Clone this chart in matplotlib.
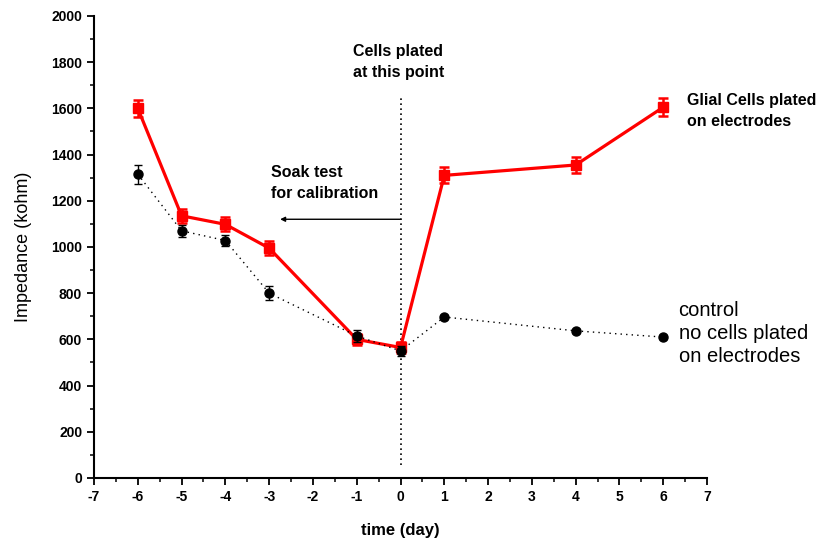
import matplotlib
matplotlib.use("Agg")
import matplotlib.pyplot as plt
from matplotlib.ticker import MultipleLocator

# Impedance measurements over time (days relative to plating)
days = [-6, -5, -4, -3, -1, 0, 1, 4, 6]
glial = [1600, 1135, 1098, 995, 600, 565, 1310, 1355, 1605]
glial_err = [38, 30, 30, 30, 25, 25, 35, 35, 38]
control = [1315, 1070, 1028, 800, 615, 550, 697, 637, 610]
control_err = [42, 25, 25, 30, 25, 20, 10, 10, 10]

plt.rcParams['font.family'] = ['Liberation Sans', 'DejaVu Sans']
plt.rcParams['axes.unicode_minus'] = False

fig = plt.figure(figsize=(8.38, 5.42), dpi=100)
ax = fig.add_axes([0.1122, 0.1181, 0.7315, 0.8524])

ax.errorbar(days, glial, yerr=glial_err, color='#ff0000', linestyle='-',
            linewidth=2.3, marker='s', markersize=7.5, capsize=3.5, elinewidth=1.8,
            capthick=1.8, zorder=2)
ax.errorbar(days, control, yerr=control_err, color='black', linestyle=(0, (1, 3)),
            linewidth=1, marker='o', markersize=6.5, capsize=3, elinewidth=1,
            capthick=1, zorder=3)

# Plating marker line and calibration arrow
ax.plot([0, 0], [56, 1645], color='black', linestyle=(0, (1, 2)), linewidth=1.2, zorder=1)
ax.annotate('', xy=(-2.75, 1120), xytext=(0, 1120),
            arrowprops=dict(arrowstyle='-|>', color='black', lw=1,
                            mutation_scale=7, shrinkA=0, shrinkB=0))

ax.set_xlim(-7, 7)
ax.set_ylim(0, 2000)
ax.xaxis.set_major_locator(MultipleLocator(1))
ax.xaxis.set_minor_locator(MultipleLocator(0.5))
ax.yaxis.set_major_locator(MultipleLocator(200))
ax.yaxis.set_minor_locator(MultipleLocator(100))
for side in ('top', 'right'):
    ax.spines[side].set_visible(False)
for side in ('left', 'bottom'):
    ax.spines[side].set_linewidth(1.5)
ax.tick_params(which='major', direction='out', length=5, width=1.3,
               labelsize=10)
ax.tick_params(which='minor', direction='out', length=3, width=1.1)
for lbl in ax.get_xticklabels() + ax.get_yticklabels():
    lbl.set_fontweight('bold')

ax.set_xlabel('time (day)', fontsize=12, fontweight='bold', labelpad=14)
ax.set_ylabel('Impedance (kohm)', fontsize=13, labelpad=14)

ax.text(-0.05, 1800, 'Cells plated\nat this point', fontsize=11.5, fontweight='bold',
        ha='center', va='center', linespacing=1.5)
ax.text(-2.95, 1275, 'Soak test\nfor calibration', fontsize=11.5, fontweight='bold',
        ha='left', va='center', linespacing=1.5)
ax.text(6.55, 1590, 'Glial Cells plated\non electrodes', fontsize=11.5,
        fontweight='bold', ha='left', va='center', linespacing=1.5)
ax.text(6.35, 625, 'control\nno cells plated\non electrodes', fontsize=14.5,
        ha='left', va='center', linespacing=1.25)

fig.savefig('out.png', dpi=100)
